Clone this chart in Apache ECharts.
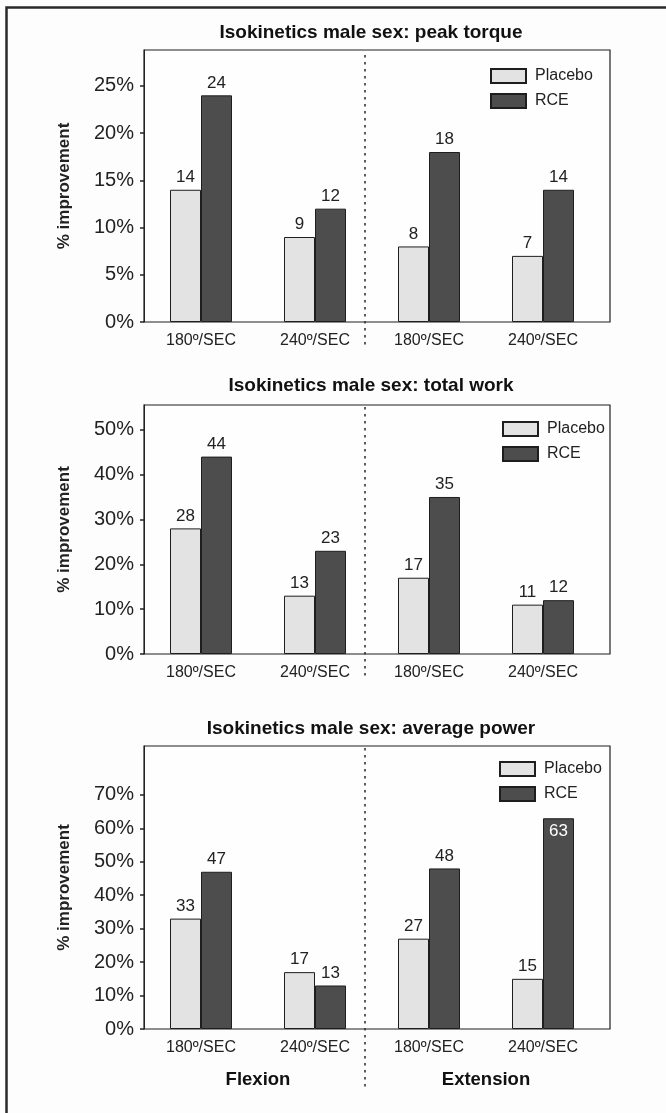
<!DOCTYPE html>
<html>
<head>
<meta charset="utf-8">
<script src="https://cdn.jsdelivr.net/npm/echarts@6/dist/echarts.min.js"></script>
<style>
  html, body { margin: 0; padding: 0; background: #fdfdfd; }
  #chart { width: 666px; height: 1113px; }
</style>
</head>
<body>
<div id="chart"></div>
<script>
// Speed categories along the x axis (flexion pair, then extension pair)
const categories = ['180º/SEC', '240º/SEC', '180º/SEC', '240º/SEC'];
const movements = ['Flexion', 'Extension'];
const seriesNames = ['Placebo', 'RCE'];

const panelTitles = [
  'Isokinetics male sex: peak torque',
  'Isokinetics male sex: total work',
  'Isokinetics male sex: average power'
];

// % improvement per category
const peakTorquePlacebo = [14, 9, 8, 7];
const peakTorqueRCE = [24, 12, 18, 14];
const totalWorkPlacebo = [28, 13, 17, 11];
const totalWorkRCE = [44, 23, 35, 12];
const avgPowerPlacebo = [33, 17, 27, 15];
const avgPowerRCE = [47, 13, 48, 63];

// y-axis tick values per panel
const peakTorqueTicks = [0, 5, 10, 15, 20, 25];
const totalWorkTicks = [0, 10, 20, 30, 40, 50];
const avgPowerTicks = [0, 10, 20, 30, 40, 50, 60, 70];

const placeboByPanel = [peakTorquePlacebo, totalWorkPlacebo, avgPowerPlacebo];
const rceByPanel = [peakTorqueRCE, totalWorkRCE, avgPowerRCE];
const ticksByPanel = [peakTorqueTicks, totalWorkTicks, avgPowerTicks];

// Layout of the three stacked panels
const panels = [
  { top: 50, height: 272, yMax: 28.8, titleTop: 23, legendTop: 68, legendLeft: 490, sepTop: 55, sepBottom: 348 },
  { top: 405, height: 249, yMax: 55.5, titleTop: 376, legendTop: 421, legendLeft: 502, sepTop: 407, sepBottom: 677 },
  { top: 746, height: 283, yMax: 84.6, titleTop: 719, legendTop: 761, legendLeft: 499, sepTop: 748, sepBottom: 1090 }
];

const BOX_LEFT = 144, BOX_WIDTH = 466, BAR_WIDTH_AREA = 456, SEP_X = 365;
const TEXT = '#222';
const FONT = '"Liberation Sans", Arial, sans-serif';
const PLACEBO_COLOR = '#e3e3e3';
const RCE_COLOR = '#4d4d4d';
const EDGE = '#1e1e1e';

const chart = echarts.init(document.getElementById('chart'), null, { renderer: 'canvas' });

const grid = [], xAxis = [], yAxis = [], series = [], title = [], legend = [], graphic = [];

panels.forEach((p, i) => {
  // grid for the bars
  grid.push({ left: BOX_LEFT, top: p.top, width: BAR_WIDTH_AREA, height: p.height });
  xAxis.push({
    type: 'category', gridIndex: i, data: categories,
    axisLine: { show: false }, axisTick: { show: false }, splitLine: { show: false },
    axisLabel: { color: TEXT, fontSize: 16, fontFamily: FONT, margin: 11 }
  });
  const ticks = ticksByPanel[i];
  yAxis.push({
    type: 'value', gridIndex: i, min: 0, max: p.yMax,
    name: '% improvement', nameLocation: 'middle', nameGap: 71,
    nameTextStyle: { color: TEXT, fontSize: 17, fontWeight: 'bold', fontFamily: FONT },
    axisLine: { show: true, lineStyle: { color: TEXT, width: 1 } },
    axisTick: { show: true, length: 4, customValues: ticks, lineStyle: { color: TEXT, width: 1.5 } },
    axisLabel: { color: TEXT, fontSize: 20, fontFamily: FONT, margin: 10, customValues: ticks, formatter: v => v + '%' },
    splitLine: { show: false }
  });

  const placebo = placeboByPanel[i];
  const rce = rceByPanel[i];
  const lastIdx = categories.length - 1;
  series.push({
    name: seriesNames[0], type: 'bar', xAxisIndex: i, yAxisIndex: i,
    barWidth: 31, barGap: '0%',
    itemStyle: { color: PLACEBO_COLOR, borderColor: EDGE, borderWidth: 1 },
    label: { show: true, position: 'top', distance: 4, color: TEXT, fontSize: 17, fontFamily: FONT },
    data: placebo
  });
  series.push({
    name: seriesNames[1], type: 'bar', xAxisIndex: i, yAxisIndex: i,
    barWidth: 31, barGap: '0%',
    itemStyle: { color: RCE_COLOR, borderColor: EDGE, borderWidth: 1 },
    label: { show: true, position: 'top', distance: 4, color: TEXT, fontSize: 17, fontFamily: FONT },
    // a tall bar under the legend carries its value inside, in white
    data: rce.map((v, k) => (k === lastIdx && v > 0.6 * p.yMax)
      ? { value: v, label: { position: 'insideTop', distance: 5, color: '#fff' } }
      : v)
  });

  title.push({
    text: panelTitles[i], left: 371, top: p.titleTop, textAlign: 'center', padding: 0,
    textStyle: { color: '#111', fontSize: 19, fontWeight: 'bold', fontFamily: FONT }
  });

  legend.push({
    data: seriesNames, orient: 'vertical', left: p.legendLeft, top: p.legendTop,
    padding: 0, itemGap: 9, itemWidth: 35, itemHeight: 14, icon: 'rect',
    textStyle: { color: TEXT, fontSize: 16, fontFamily: FONT, padding: [0, 0, 0, 4] }
  });

  // separator between flexion and extension
  graphic.push({
    type: 'line', z: 10,
    shape: { x1: SEP_X, y1: p.sepTop, x2: SEP_X, y2: p.sepBottom },
    style: { stroke: '#333', lineWidth: 1.6, lineDash: [2.5, 4.5] }
  });
});

// Movement names under the bottom panel
xAxis.push({
  type: 'category', gridIndex: 2, data: movements, position: 'bottom', offset: 33,
  axisLine: { show: false }, axisTick: { show: false }, splitLine: { show: false },
  axisLabel: { color: '#111', fontSize: 18.5, fontWeight: 'bold', fontFamily: FONT, margin: 8 }
});

// Framed plot boxes behind each panel
panels.forEach((p, i) => {
  grid.push({
    left: BOX_LEFT, top: p.top, width: BOX_WIDTH, height: p.height, z: -1,
    show: true, backgroundColor: '#fefefe', borderColor: EDGE, borderWidth: 1.2
  });
  xAxis.push({ type: 'value', gridIndex: 3 + i, show: false });
  yAxis.push({ type: 'value', gridIndex: 3 + i, show: false });
});

// Page frame (left and top edges)
graphic.push({
  type: 'polyline', z: 10,
  shape: { points: [[6.5, 1113], [6.5, 7.5], [666, 7.5]] },
  style: { stroke: '#2a2a2a', lineWidth: 2.5, fill: null }
});

chart.setOption({
  backgroundColor: '#fdfdfd',
  animation: false,
  title, legend, grid, xAxis, yAxis, series, graphic
});
</script>
</body>
</html>
